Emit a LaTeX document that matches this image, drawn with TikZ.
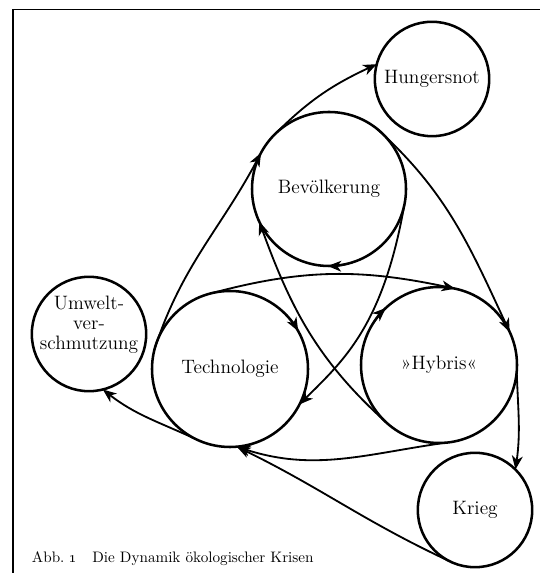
\documentclass[tikz,border=0pt]{standalone}
\usetikzlibrary{arrows.meta}
\begin{document}
\begin{tikzpicture}[x=0.25mm,y=0.25mm,
    bubble/.style={circle,draw,line width=1.8pt,inner sep=0pt,outer sep=0pt,font=\fontsize{13.8}{14.2}\selectfont},
    big/.style={bubble,minimum size=39mm},
    small/.style={bubble,minimum size=28.6mm},
    arr/.style={-{Stealth[length=3.4mm,width=2.7mm,inset=1mm]},line width=1.3pt},
]
\useasboundingbox (0,0) rectangle (540,573);
\draw[line width=1.3pt] (13,0) |- (540,563.5);

\node[small] (hun) at (432,494) {Hungersnot};
\node[big,minimum size=38.5mm] (bev) at (329,384) {Bevölkerung};
\node[small] (umw) at (89,239) {};
\node[font=\fontsize{13.8}{14.2}\selectfont,align=center] (umwtxt) at (89,248) {Umwelt-\\ver-\\schmutzung};
\node[big] (tec) at (230,204) {Technologie};
\node[big] (hyb) at (439,208) {»Hybris«};
\node[small] (kri) at (475,63) {Krieg};

\draw[arr] (bev.-75) arc[start angle=-75,end angle=-91,radius=19.25mm];
\draw[arr] (tec.44) arc[start angle=44,end angle=29,radius=19.5mm];
\draw[arr] (hyb.148) arc[start angle=148,end angle=133,radius=19.5mm];

\draw[arr] (tec.165) to[out=72,in=242] (bev.152);
\draw[arr] (bev.135) to[out=45,in=205] (hun.165);
\draw[arr] (bev.52) to[out=-42,in=115] (hyb.25);
\draw[arr] (hyb.-5) to[out=-88,in=82] (kri.45);
\draw[arr] (tec.103) to[out=15,in=168] (hyb.78);
\draw[arr] (hyb.275) to[out=188,in=-18] (tec.275);
\draw[arr] (kri.243) to[out=155,in=-26] (tec.275);
\draw[arr] (hyb.228) to[out=138,in=-70] (bev.205);
\draw[arr] (bev.-12) to[out=-100,in=45,out looseness=1.4,in looseness=0.7] (tec.-27);
\draw[arr] (tec.245) to[out=155,in=-38] (umw.-76);

\node[font=\fontsize{10.8}{13}\selectfont,anchor=base west] (cap) at (27,10) {Abb.~\oldstylenums{1}\quad Die Dynamik ökologischer Krisen};
\end{tikzpicture}
\end{document}
